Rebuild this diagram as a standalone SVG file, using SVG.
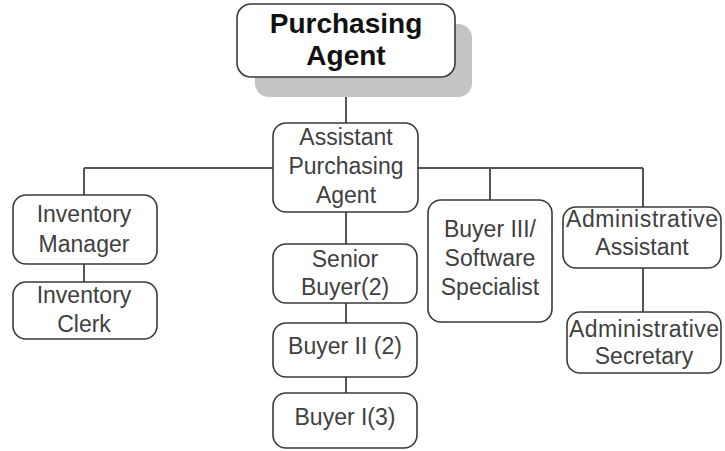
<svg xmlns="http://www.w3.org/2000/svg" width="725" height="451" viewBox="0 0 725 451">
  <style>
    .box { fill: #ffffff; stroke: #3a3a3a; stroke-width: 1.6; }
    .shadow { fill: #c4c4c4; }
    .lbl { font-family: "Liberation Sans", Arial, sans-serif; font-size: 23px; fill: #404040; text-anchor: middle; }
    .title { font-family: "Liberation Sans", Arial, sans-serif; font-size: 28px; font-weight: bold; fill: #111111; text-anchor: middle; }
    .wire { fill: none; stroke: #555555; stroke-width: 2; }
  </style>
  <rect width="725" height="451" fill="#ffffff"/>

  <g id="connectors">
    <path class="wire" d="M346 77 V123"/>
    <path class="wire" d="M84 168 H643"/>
    <path class="wire" d="M84 168 V195"/>
    <path class="wire" d="M84 264 V282"/>
    <path class="wire" d="M346 212 V244"/>
    <path class="wire" d="M346 303 V323"/>
    <path class="wire" d="M346 377 V393"/>
    <path class="wire" d="M490 168 V200"/>
    <path class="wire" d="M643 168 V207"/>
    <path class="wire" d="M643 268 V312"/>
  </g>

  <g id="purchasing-agent">
    <rect class="shadow" x="255" y="24" width="217" height="73" rx="14"/>
    <rect class="box" x="237" y="4" width="218" height="73" rx="14"/>
    <text class="title" x="346" y="33">Purchasing</text>
    <text class="title" x="346" y="65">Agent</text>
  </g>

  <g id="assistant-purchasing-agent">
    <rect class="box" x="273" y="123" width="145" height="89" rx="13"/>
    <text class="lbl" x="346" y="145">Assistant</text>
    <text class="lbl" x="346" y="174">Purchasing</text>
    <text class="lbl" x="346" y="203">Agent</text>
  </g>

  <g id="inventory-manager">
    <rect class="box" x="13" y="195" width="144" height="69" rx="13"/>
    <text class="lbl" x="84" y="222">Inventory</text>
    <text class="lbl" x="84" y="252">Manager</text>
  </g>

  <g id="inventory-clerk">
    <rect class="box" x="13" y="282" width="144" height="57" rx="13"/>
    <text class="lbl" x="84" y="303">Inventory</text>
    <text class="lbl" x="84" y="332">Clerk</text>
  </g>

  <g id="senior-buyer">
    <rect class="box" x="273" y="244" width="144" height="59" rx="13"/>
    <text class="lbl" x="345" y="267">Senior</text>
    <text class="lbl" x="345" y="295">Buyer(2)</text>
  </g>

  <g id="buyer-ii">
    <rect class="box" x="273" y="323" width="144" height="54" rx="13"/>
    <text class="lbl" x="345" y="354">Buyer II (2)</text>
  </g>

  <g id="buyer-i">
    <rect class="box" x="273" y="393" width="144" height="55" rx="13"/>
    <text class="lbl" x="345" y="425">Buyer I(3)</text>
  </g>

  <g id="buyer-iii">
    <rect class="box" x="428" y="200" width="124" height="122" rx="13"/>
    <text class="lbl" x="490" y="237">Buyer III/</text>
    <text class="lbl" x="490" y="266">Software</text>
    <text class="lbl" x="490" y="295">Specialist</text>
  </g>

  <g id="administrative-assistant">
    <rect class="box" x="563" y="207" width="158" height="61" rx="13"/>
    <text class="lbl" x="642" y="227" textLength="152" lengthAdjust="spacing">Administrative</text>
    <text class="lbl" x="642" y="255">Assistant</text>
  </g>

  <g id="administrative-secretary">
    <rect class="box" x="567" y="312" width="154" height="61" rx="13"/>
    <text class="lbl" x="644" y="337" textLength="150" lengthAdjust="spacing">Administrative</text>
    <text class="lbl" x="644" y="364">Secretary</text>
  </g>
</svg>
